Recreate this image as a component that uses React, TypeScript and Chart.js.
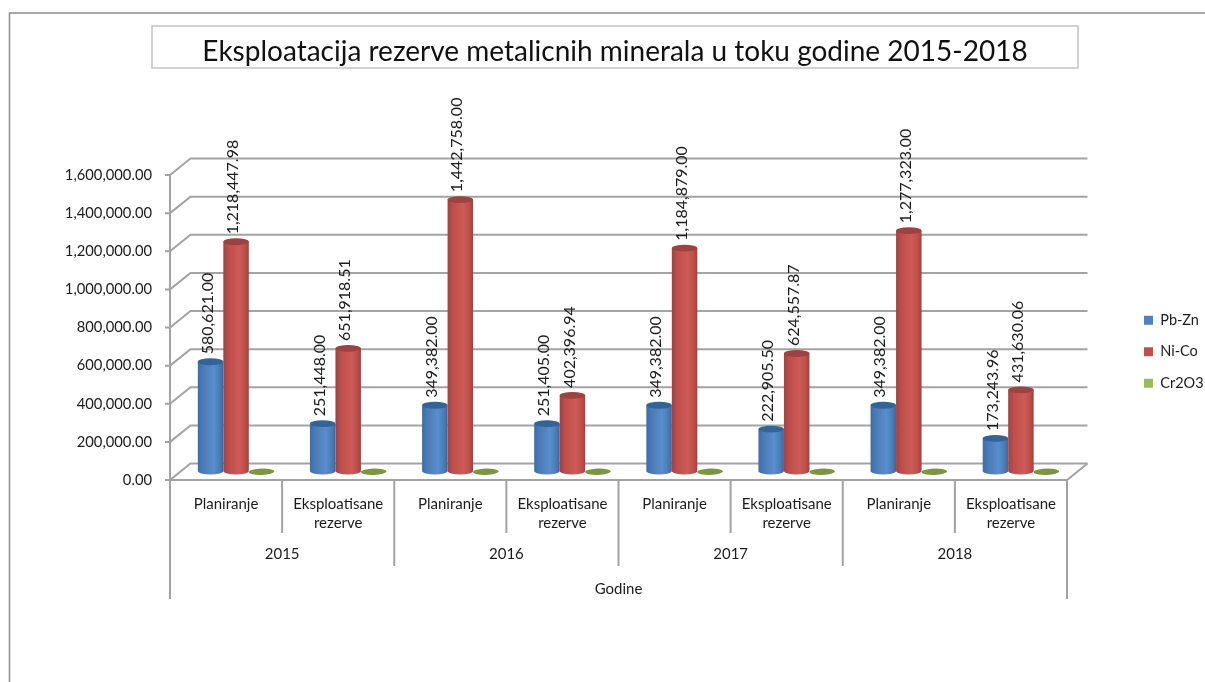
import React, { useEffect, useRef } from "react";
import { Chart, registerables } from "chart.js";

Chart.register(...registerables);

const categories = [
  "Planiranje", ["Eksploatisane", "rezerve"],
  "Planiranje", ["Eksploatisane", "rezerve"],
  "Planiranje", ["Eksploatisane", "rezerve"],
  "Planiranje", ["Eksploatisane", "rezerve"],
];
const years = ["2015", "2016", "2017", "2018"];
const pbZn = [580621.0, 251448.0, 349382.0, 251405.0, 349382.0, 222905.5, 349382.0, 173243.96];
const niCo = [1218447.98, 651918.51, 1442758.0, 402396.94, 1184879.0, 624557.87, 1277323.0, 431630.06];
const cr2o3 = [0, 0, 0, 0, 0, 0, 0, 0];
const titleText = "Eksploatacija rezerve metalicnih minerala u toku godine 2015-2018";

const FONT = "Lato, 'Open Sans', sans-serif";
const TEXT = "#1c1c1c";
const LINE = "#a3a3a3";
const DX = 20.5, DY = -16.5;      // depth of the 3D box
const BX = 10, BY = -9;           // bar offset into the box
const BSCALE = 0.987;
const RY = 3.4;
const TITLE_SIZE = 28;

const fmt = (v: number) =>
  v.toLocaleString("en-US", { minimumFractionDigits: 2, maximumFractionDigits: 2 });

const palettes = [
  { edgeL: "#3f6da6", mid: "#4a7cb8", hi: "#5a8dcc", edgeR: "#3b689f", top: "#336496" },
  { edgeL: "#a04341", mid: "#bd4f4c", hi: "#cf5a56", edgeR: "#9c4240", top: "#9c4240" },
  { edgeL: "#7a963e", mid: "#7a963e", hi: "#7a963e", edgeR: "#7a963e", top: "#7a963e" },
];

const box3d = {
  id: "box3d",
  afterLayout(chart: any) {
    const t = chart.titleBlock;
    t.left = 152; t.right = 1078; t.top = 52 - TITLE_SIZE / 2;
    const l = chart.legend;
    l.left = 1144 - 17; l.right = 1205; l.top = 296; l.bottom = 682;
  },
  beforeDraw(chart: any) {
    const c = chart.ctx;
    const { x, y } = chart.scales;
    c.save();
    // outer frame
    c.strokeStyle = "#8c8c8c"; c.lineWidth = 1.5;
    c.beginPath(); c.moveTo(9.5, 682); c.lineTo(9.5, 13); c.lineTo(1205, 13); c.stroke();
    // title frame
    c.strokeStyle = "#c4c4c4"; c.lineWidth = 1.5;
    c.strokeRect(152, 26, 926, 42);
    // grid, walls
    c.strokeStyle = LINE; c.lineWidth = 2;
    const L = x.left, R = x.right;
    for (const tk of y.ticks) {
      const py = y.getPixelForValue(tk.value);
      c.beginPath();
      c.moveTo(L - 5, py); c.lineTo(L, py); c.lineTo(L + DX, py + DY); c.lineTo(R + DX, py + DY);
      c.stroke();
    }
    const by = y.getPixelForValue(0);
    c.beginPath();
    c.moveTo(L, y.top); c.lineTo(L, by); c.lineTo(R, by); c.lineTo(R + DX, by + DY);
    c.stroke();
    // multi-level category separators
    const w = (R - L) / categories.length;
    for (let i = 0; i <= categories.length; i++) {
      const px = x.getPixelForValue(0) - w / 2 + i * w;
      const end = i === 0 || i === categories.length ? 599 : i % 2 === 0 ? 566 : 533;
      c.beginPath(); c.moveTo(px, by); c.lineTo(px, end); c.stroke();
    }
    c.fillStyle = TEXT; c.textAlign = "center"; c.textBaseline = "middle";
    c.font = `15px ${FONT}`;
    years.forEach((yr, i) => {
      const px = (x.getPixelForValue(i * 2) + x.getPixelForValue(i * 2 + 1)) / 2;
      c.fillText(yr, px, 554);
    });
    c.restore();
  },
  beforeDatasetDraw() {
    return false;
  },
  afterDatasetsDraw(chart: any) {
    const c = chart.ctx;
    const base0 = chart.scales.y.getPixelForValue(0);
    chart.data.datasets.forEach((ds: any, di: number) => {
      const p = palettes[di];
      chart.getDatasetMeta(di).data.forEach((el: any, i: number) => {
        const cx = el.x + BX, rx = el.width / 2;
        const by = base0 + BY;
        const ty = base0 - (base0 - el.y) * BSCALE + BY;
        const empty = !(ds.data[i] > 0);
        c.save();
        if (!empty) {
          const g = c.createLinearGradient(cx - rx, 0, cx + rx, 0);
          g.addColorStop(0, p.edgeL); g.addColorStop(0.22, p.mid);
          g.addColorStop(0.62, p.hi); g.addColorStop(0.85, p.mid); g.addColorStop(1, p.edgeR);
          c.fillStyle = g;
          c.beginPath();
          c.moveTo(cx - rx, ty);
          c.lineTo(cx - rx, by);
          c.ellipse(cx, by, rx, RY, 0, Math.PI, 0, true);
          c.lineTo(cx + rx, ty);
          c.closePath();
          c.fill();
        }
        c.fillStyle = p.top;
        c.beginPath();
        c.ellipse(cx, empty ? ty + 0.7 : ty, rx, empty ? 3.2 : RY, empty ? -0.03 : 0, 0, Math.PI * 2);
        c.fill();
        c.restore();
      });
    });
    chart.data.datasets.forEach((ds: any, di: number) => {
      chart.getDatasetMeta(di).data.forEach((el: any, i: number) => {
        if (!(ds.data[i] > 0)) return;
        const cx = el.x + BX - 3;
        const ty = base0 - (base0 - el.y) * BSCALE + BY;
        c.save();
        c.translate(cx, ty - RY - 4);
        c.rotate(-Math.PI / 2);
        c.fillStyle = TEXT;
        c.font = `16px ${FONT}`;
        c.textAlign = "left"; c.textBaseline = "middle";
        c.fillText(fmt(ds.data[i]), 0, 0);
        c.restore();
      });
    });
  },
};

export default function App() {
  const ref = useRef<HTMLCanvasElement>(null);
  useEffect(() => {
    document.body.style.margin = "0";
    const chart = new Chart(ref.current!, {
      type: "bar",
      data: {
        labels: categories as any,
        datasets: [
          { label: "Pb-Zn", data: pbZn, backgroundColor: "#4f81bd" },
          { label: "Ni-Co", data: niCo, backgroundColor: "#c0504d" },
          { label: "Cr2O3", data: cr2o3, backgroundColor: "#9bbb59" },
        ],
      },
      options: {
        responsive: false,
        animation: false,
        layout: { padding: { top: 175 - TITLE_SIZE, right: 138, left: 0, bottom: 0 } },
        datasets: { bar: { barPercentage: 1, categoryPercentage: 0.682 } },
        plugins: {
          title: {
            display: true,
            text: titleText,
            color: "#111",
            font: { family: FONT, size: TITLE_SIZE, weight: "normal", lineHeight: 1 },
            padding: 0,
          },
          legend: {
            position: "chartArea" as any,
            align: "start",
            labels: {
              boxWidth: 9, boxHeight: 9, padding: 17, color: TEXT,
              font: { family: FONT, size: 14.5 },
            },
          },
          tooltip: { enabled: false },
        },
        scales: {
          x: {
            grid: { display: false },
            border: { display: false },
            afterFit(s: any) { s.height = 202; },
            ticks: {
              autoSkip: false, maxRotation: 0, minRotation: 0, padding: 7, color: TEXT,
              font: { family: FONT, size: 15, lineHeight: 1.27 },
            },
            title: {
              display: true, text: "Godine", color: TEXT,
              font: { family: FONT, size: 15 },
              padding: { top: 0, bottom: 84 },
            },
          },
          y: {
            min: 0, max: 1600000,
            grid: { display: false },
            border: { display: false },
            afterFit(s: any) { s.width = 170; },
            ticks: {
              stepSize: 200000, padding: 10, color: TEXT,
              font: { family: FONT, size: 14.75 },
              callback: (v: any) => fmt(Number(v)),
            },
          },
        },
      },
      plugins: [box3d],
    } as any);
    return () => chart.destroy();
  }, []);
  return <canvas ref={ref} width={1205} height={682} style={{ display: "block" }} />;
}
